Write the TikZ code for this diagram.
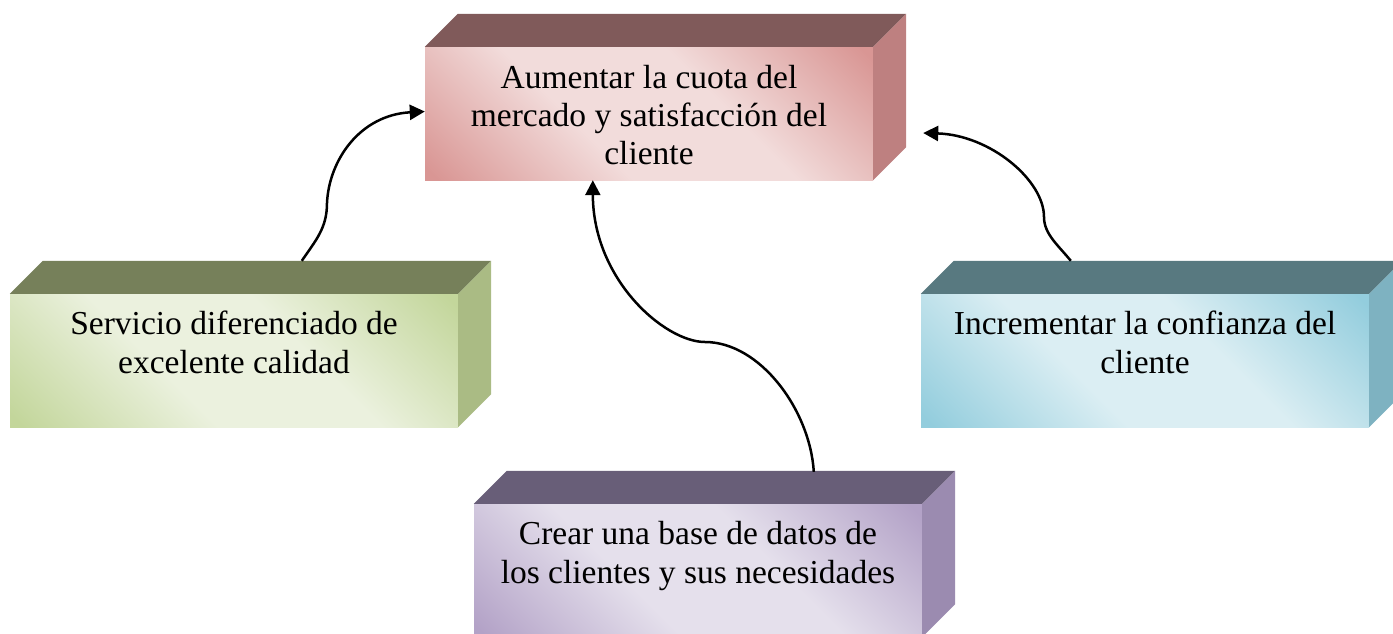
\documentclass[tikz,border=0pt]{standalone}
\usepackage{fontspec}
\setmainfont{Liberation Serif}
\usetikzlibrary{arrows.meta,calc}

\definecolor{rlight}{HTML}{F2DCDB}\definecolor{rdark}{HTML}{D99694}
\definecolor{rtop}{HTML}{805A5A}\definecolor{rside}{HTML}{BE8080}
\definecolor{glight}{HTML}{EBF1DE}\definecolor{gdark}{HTML}{C3D69B}
\definecolor{gtop}{HTML}{76805A}\definecolor{gside}{HTML}{AABB84}
\definecolor{blight}{HTML}{DBEEF3}\definecolor{bdark}{HTML}{93CDDD}
\definecolor{btop}{HTML}{587980}\definecolor{bside}{HTML}{7EB2C1}
\definecolor{plight}{HTML}{E5E0EC}\definecolor{pdark}{HTML}{B3A2C7}
\definecolor{ptop}{HTML}{685E78}\definecolor{pside}{HTML}{9B8BB0}

\pgfdeclarehorizontalshading{rshade}{100bp}{color(0bp)=(rdark); color(16bp)=(rdark); color(40bp)=(rlight); color(60bp)=(rlight); color(84bp)=(rdark); color(100bp)=(rdark)}
\pgfdeclarehorizontalshading{gshade}{100bp}{color(0bp)=(gdark); color(16bp)=(gdark); color(40bp)=(glight); color(60bp)=(glight); color(84bp)=(gdark); color(100bp)=(gdark)}
\pgfdeclarehorizontalshading{bshade}{100bp}{color(0bp)=(bdark); color(16bp)=(bdark); color(40bp)=(blight); color(60bp)=(blight); color(84bp)=(bdark); color(100bp)=(bdark)}
\pgfdeclarehorizontalshading{pshade}{100bp}{color(0bp)=(pdark); color(16bp)=(pdark); color(40bp)=(plight); color(60bp)=(plight); color(84bp)=(pdark); color(100bp)=(pdark)}

\tikzset{
  front/.style={inner sep=0pt, minimum width=448pt, minimum height=133pt, shading=#1, shading angle=45},
  txt/.style={inner sep=0pt, align=center, font=\fontsize{33.5}{38.3}\selectfont},
  conn/.style={line width=2.5pt, -{Triangle[length=15pt,width=15pt]}},
}
\newcommand\boxfaces[2]{%
  \fill[#2top] (#1.north west) -- ++(33pt,33pt) -- ($(#1.north east)+(33pt,33pt)$) -- (#1.north east) -- cycle;
  \fill[#2side] (#1.north east) -- ++(33pt,33pt) -- ($(#1.south east)+(33pt,33pt)$) -- (#1.south east) -- cycle;
}

\begin{document}
\begin{tikzpicture}[x=1pt,y=-1pt]
\useasboundingbox (0,0) rectangle (1393,633);
\clip (0,0) rectangle (1393,633);

% boxes (front faces)
\node[front=rshade] (goal) at (649,113.5) {};
\node[front=gshade] (serv) at (234,360.5) {};
\node[front=bshade] (conf) at (1145,360.5) {};
\node[front=pshade] (datos) at (698,570.5) {};
\boxfaces{goal}{r}
\boxfaces{serv}{g}
\boxfaces{conf}{b}
\boxfaces{datos}{p}

% texts
\node[txt] (goaltxt) at (649,115) {Aumentar la cuota del\\mercado y satisfacción del\\cliente};
\node[txt] (servtxt) at (234,342.5) {Servicio diferenciado de\\excelente calidad};
\node[txt] (conftxt) at (1145,342.5) {Incrementar la confianza del\\cliente};
\node[txt] (datostxt) at (698,556) {Crear una base de datos de\\los clientes y sus necesidades};

% connector end points
\coordinate (a1s) at ($(serv.north west)+(292pt,33pt)$);
\coordinate (a1e) at ($(goal.west)+(0pt,2pt)$);
\coordinate (a2s) at ($(datos.north west)+(340pt,32pt)$);
\coordinate (a2e) at ($(goal.south west)+(168pt,0pt)$);
\coordinate (a3s) at ($(conf.north west)+(150pt,33pt)$);
\coordinate (a3e) at ($(goal.east)+(50pt,-19.5pt)$);

\draw[conn] (a1s) .. controls (316,240) and (327,228) .. (327,203)
                  .. controls (329,160) and (360,115) .. (a1e);
\draw[conn] (a2s) .. controls (810,410) and (760,342) .. (705,342)
                  .. controls (665,342) and (593,280) .. (a2e);
\draw[conn] (a3s) .. controls (1058,245) and (1044,234) .. (1044,217)
                  .. controls (1044,180) and (990,135) .. (a3e);
\end{tikzpicture}
\end{document}
